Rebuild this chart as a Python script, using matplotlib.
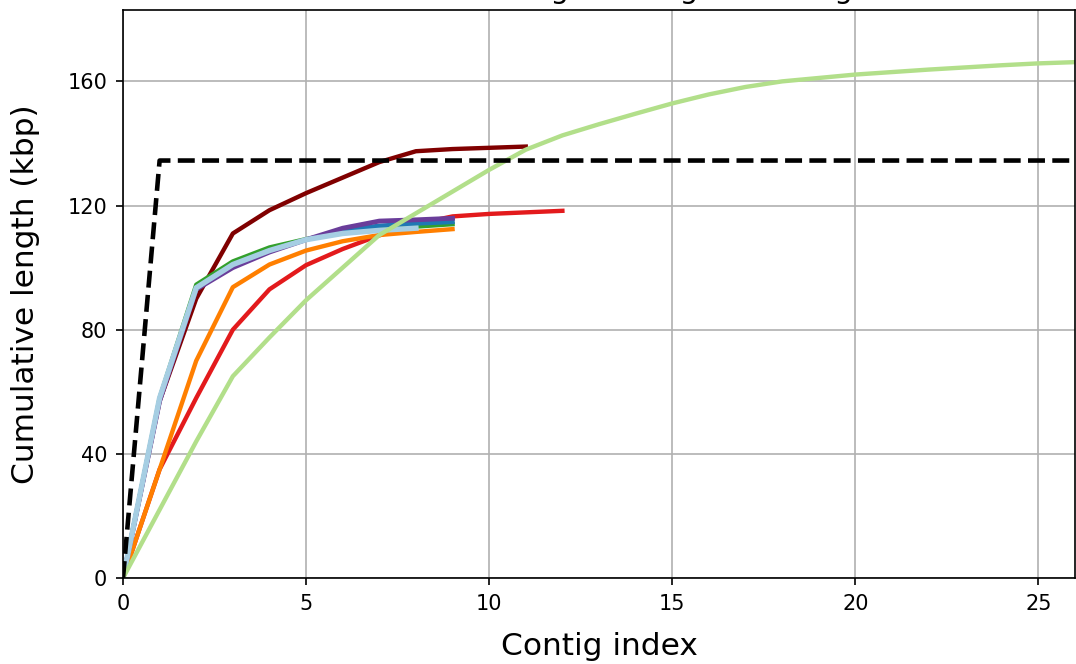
import matplotlib
matplotlib.use("Agg")
import matplotlib.pyplot as plt

# cumulative contig length (kbp) per assembly, indexed by contig
ref_x = [0, 1, 26.5]
ref_y = [0, 134.5, 134.5]

dark_red = [0, 57, 90, 111, 118.5, 124, 129, 134, 137.5, 138.2, 138.6, 139]
red = [0, 35, 58, 80, 93, 100.8, 106, 110.4, 114, 116.5, 117.3, 117.8, 118.3]
orange = [0, 35, 70, 93.7, 101, 105.5, 108.5, 110.5, 111.5, 112.4]
green = [0, 58, 94.5, 102, 106.5, 109.2, 111.3, 112.4, 113.2, 114]
blue = [0, 57.5, 93.5, 101, 105.5, 109, 112, 113.5, 114.2, 114.7]
purple = [0, 57, 93, 100, 105, 109, 112.7, 115, 115.4, 115.9]
light_blue = [0, 58, 93.5, 101, 105.5, 109, 111, 112, 112.7]
light_green = [0, 22, 44, 65, 77.5, 89.5, 100, 110.5, 117.5, 124.5, 131.5, 138,
               142.6, 146.2, 149.6, 152.9, 155.8, 158.2, 160, 161.1, 162.2,
               163, 163.8, 164.5, 165.2, 165.8, 166.2]

series = [
    (dark_red, "#800000", 2.1),
    (red, "#e31a1c", 2.1),
    (orange, "#ff7f00", 2.1),
    (green, "#33a02c", 2.1),
    (blue, "#1f78b4", 2.1),
    (purple, "#6a3d9a", 2.3),
    (light_blue, "#a6cee3", 2.6),
    (light_green, "#b2df8a", 2.1),
]

fig = plt.figure(figsize=(1076 / 150, 664 / 150), dpi=150)
ax = fig.add_axes([123 / 1076, 86 / 664, 952 / 1076, 568 / 664])

for ys, c, w in series:
    ax.plot(range(len(ys)), ys, color=c, lw=w, solid_capstyle="projecting")
ax.plot(ref_x, ref_y, color="black", lw=2.2, ls="--")

ax.set_xlim(0, 26)
ax.set_ylim(0, 183)
ax.set_xticks([0, 5, 10, 15, 20, 25])
ax.set_yticks([0, 40, 80, 120, 160])
ax.tick_params(labelsize=10, pad=4)
ax.grid(True, color="#b0b0b0")
ax.set_axisbelow(True)

ax.set_title("Cumulative length of aligned contigs", fontsize=14)
ax.set_xlabel("Contig index", fontsize=15, labelpad=9)
ax.set_ylabel("Cumulative length (kbp)", fontsize=15, labelpad=13)

fig.savefig("out.png", dpi=150)
